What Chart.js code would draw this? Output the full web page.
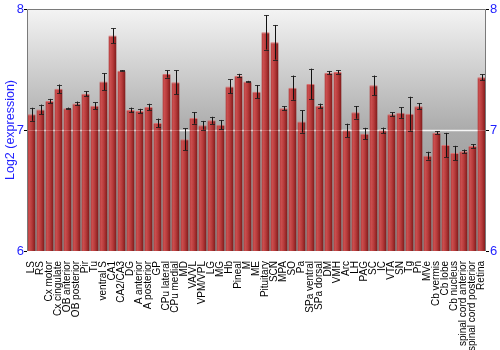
<!DOCTYPE html>
<html>
<head>
<meta charset="utf-8">
<script src="https://cdn.jsdelivr.net/npm/chart.js@4/dist/chart.umd.min.js"></script>
<style>
  html, body { margin: 0; padding: 0; background: #fff; }
  #c { display: block; }
</style>
</head>
<body>
<canvas id="c" width="500" height="350"></canvas>
<script>
// Log2 expression per brain region, with error bars.
const REGIONS = ['LS', 'RS', 'Cx motor', 'Cx cingulate', 'OB anterior', 'OB posterior', 'Pir', 'Tu', 'ventral S', 'CA1',
  'CA2/CA3', 'DG', 'A anterior', 'A posterior', 'GP', 'CPu lateral', 'CPu medial', 'MD', 'VA/VL', 'VPM/VPL',
  'LG', 'MG', 'Hb', 'Pineal', 'M', 'ME', 'Pituitary', 'SCN', 'MPA', 'SO',
  'Pa', 'SPa ventral', 'SPa dorsal', 'DM', 'VMH', 'Arc', 'LH', 'PAG', 'SC', 'IC',
  'VTA', 'SN', 'Tg', 'Pn', 'MVe', 'Cb vermis', 'Cb lobe', 'Cb nucleus', 'spinal cord anterior', 'spinal cord posterior', 'Retina'];
const EXPR = [7.13, 7.17, 7.24, 7.34, 7.18, 7.22, 7.30, 7.20, 7.40, 7.78,
  7.49, 7.165, 7.157, 7.19, 7.058, 7.463, 7.394, 6.923, 7.10, 7.039,
  7.08, 7.044, 7.36, 7.449, 7.40, 7.317, 7.807, 7.725, 7.18, 7.35,
  7.07, 7.38, 7.20, 7.474, 7.48, 6.997, 7.146, 6.97, 7.369, 6.997,
  7.13, 7.143, 7.135, 7.196, 6.788, 6.978, 6.876, 6.81, 6.824, 6.868, 7.435];
const ERR = [0.054, 0.04, 0.017, 0.036, 0.005, 0.015, 0.02, 0.028, 0.07, 0.062,
  0.005, 0.02, 0.018, 0.027, 0.036, 0.03, 0.1, 0.09, 0.048, 0.036,
  0.029, 0.039, 0.058, 0.015, 0.006, 0.055, 0.142, 0.143, 0.017, 0.1,
  0.092, 0.127, 0.018, 0.014, 0.014, 0.055, 0.052, 0.048, 0.081, 0.023,
  0.015, 0.043, 0.14, 0.026, 0.032, 0.011, 0.1, 0.059, 0.014, 0.015, 0.025];
const Y_TICKS = [6, 7, 8];

const BLUE = '#1f1fff';
const BAR_PCT = 0.9;

// grey gradient behind the bars, frame on top/left/right
const panel = {
  id: 'panel',
  beforeDatasetsDraw(ch) {
    const { ctx, chartArea: a, scales: { y } } = ch;
    const g = ctx.createLinearGradient(0, a.top, 0, a.bottom);
    g.addColorStop(0, '#f4f4f4');
    g.addColorStop(0.5, '#ababab');
    g.addColorStop(1, '#8a8a8a');
    ctx.save();
    ctx.fillStyle = g;
    ctx.fillRect(a.left, a.top, a.width, a.height);
    const y7 = Math.round(y.getPixelForValue(7)) + 0.5;
    ctx.strokeStyle = '#f4f4f4';
    ctx.lineWidth = 1.5;
    ctx.beginPath(); ctx.moveTo(a.left, y7); ctx.lineTo(a.right, y7); ctx.stroke();
    ctx.restore();
  },
  afterDatasetsDraw(ch) {
    const { ctx, chartArea: a, scales: { x, y } } = ch;
    ctx.save();
    // faint grid line over bars
    const y7 = Math.round(y.getPixelForValue(7)) + 0.5;
    ctx.strokeStyle = 'rgba(255,255,255,0.22)';
    ctx.lineWidth = 1;
    ctx.beginPath(); ctx.moveTo(a.left, y7); ctx.lineTo(a.right, y7); ctx.stroke();
    // error bars
    EXPR.forEach((v, i) => {
      const cx = Math.round(x.getPixelForValue(i)) + 0.5;
      const hi = y.getPixelForValue(v + ERR[i]);
      const lo = y.getPixelForValue(v - ERR[i]);
      ctx.strokeStyle = '#111';
      ctx.lineWidth = 1;
      ctx.beginPath(); ctx.moveTo(cx, hi); ctx.lineTo(cx, lo); ctx.stroke();
      ctx.strokeStyle = 'rgba(30,30,30,0.85)';
      ctx.beginPath();
      ctx.moveTo(cx - 2.5, Math.round(hi) + 0.5); ctx.lineTo(cx + 2.5, Math.round(hi) + 0.5);
      ctx.moveTo(cx - 2.5, Math.round(lo) + 0.5); ctx.lineTo(cx + 2.5, Math.round(lo) + 0.5);
      ctx.stroke();
    });
    // frame
    ctx.strokeStyle = '#7a7a7a';
    ctx.lineWidth = 1;
    ctx.beginPath();
    ctx.moveTo(a.left + 0.5, a.bottom); ctx.lineTo(a.left + 0.5, a.top + 0.5);
    ctx.lineTo(a.right - 0.5, a.top + 0.5); ctx.lineTo(a.right - 0.5, a.bottom);
    ctx.stroke();
    ctx.restore();
  }
};

function barFill(c) {
  const ch = c.chart, a = ch.chartArea;
  if (!a || c.dataIndex == null) return '#b03434';
  const cx = ch.scales.x.getPixelForValue(c.dataIndex);
  const w = a.width / REGIONS.length * BAR_PCT;
  const g = ch.ctx.createLinearGradient(cx - w / 2, 0, cx + w / 2, 0);
  g.addColorStop(0, '#a83030');
  g.addColorStop(0.2, '#cc5050');
  g.addColorStop(0.55, '#b63a3a');
  g.addColorStop(1, '#7c1818');
  return g;
}

const tickFont = { family: 'Liberation Sans, Arial, sans-serif', size: 13 };

new Chart(document.getElementById('c'), {
  type: 'bar',
  data: {
    labels: REGIONS,
    datasets: [{
      data: EXPR,
      backgroundColor: barFill,
      borderColor: '#d87070',
      borderWidth: { top: 1, left: 0, right: 0, bottom: 0 },
      borderSkipped: 'start',
      barPercentage: BAR_PCT,
      categoryPercentage: 1,
      yAxisID: 'y'
    }]
  },
  options: {
    responsive: false,
    animation: false,
    events: [],
    layout: { padding: { top: 9, right: 0, left: 0, bottom: 0 } },
    plugins: { legend: { display: false }, tooltip: { enabled: false } },
    scales: {
      x: {
        grid: { display: false },
        border: { display: false },
        ticks: {
          autoSkip: false, maxRotation: 90, minRotation: 90, padding: 2, color: '#000',
          font: { family: 'Liberation Sans, Arial, sans-serif', size: 10 }
        },
        afterFit(s) { s.height = 99; }
      },
      y: {
        position: 'left', min: Y_TICKS[0], max: Y_TICKS[Y_TICKS.length - 1],
        afterBuildTicks(s) { s.ticks = Y_TICKS.map((v) => ({ value: v })); },
        grid: { drawOnChartArea: false, tickLength: 3, tickColor: '#000' },
        border: { display: false },
        ticks: { color: BLUE, font: tickFont, padding: 0 },
        title: {
          display: true, text: 'Log2 (expression)', color: BLUE,
          font: { family: 'Liberation Sans, Arial, sans-serif', size: 12.5 }, padding: { top: 3, bottom: 0 }
        },
        afterFit(s) { s.width = 27; }
      },
      y2: {
        position: 'right', min: Y_TICKS[0], max: Y_TICKS[Y_TICKS.length - 1],
        afterBuildTicks(s) { s.ticks = Y_TICKS.map((v) => ({ value: v })); },
        grid: { drawOnChartArea: false, tickLength: 3, tickColor: '#000' },
        border: { display: false },
        ticks: { color: BLUE, font: tickFont, padding: 1 },
        afterFit(s) { s.width = 14; }
      }
    }
  },
  plugins: [panel]
});
</script>
</body>
</html>
